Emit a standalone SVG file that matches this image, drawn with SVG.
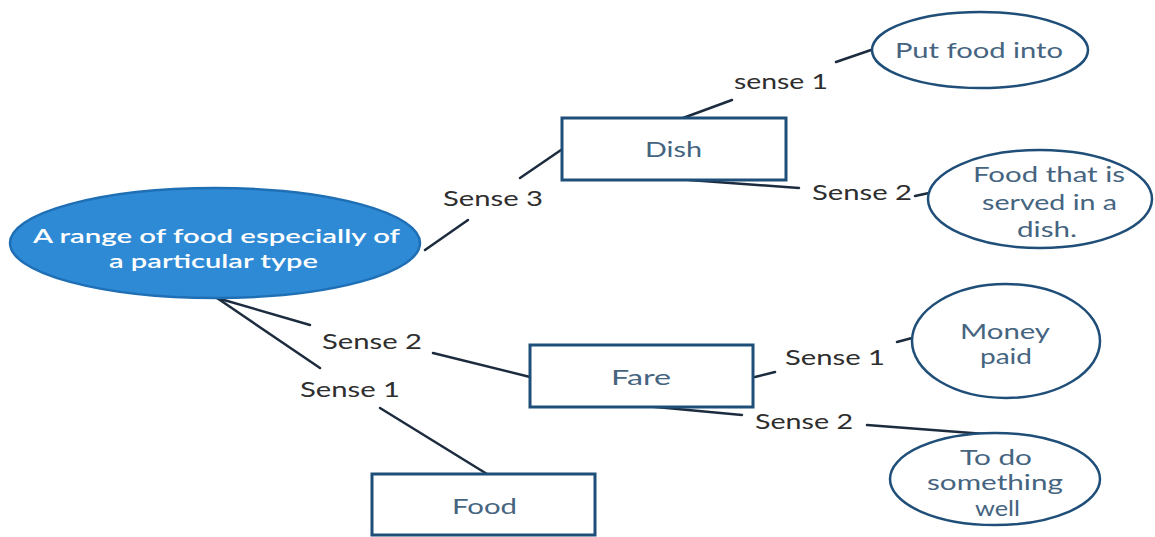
<svg xmlns="http://www.w3.org/2000/svg" width="1155" height="537" viewBox="0 0 1155 537">
<style>
.conn line{stroke:#1c2c3e;stroke-width:2.5;stroke-linecap:round}
.box{fill:#ffffff;stroke:#1f4e79;stroke-width:3}
.oval{fill:#ffffff;stroke:#1f4e79;stroke-width:2.5}
.main{fill:#2f8ad6;stroke:#1f6fb5;stroke-width:2.5}
.lbl{font-family:Lato,"Open Sans",sans-serif;font-size:21px;fill:#2e2e2e}
.nt{font-family:Lato,"Open Sans",sans-serif;font-size:21px;fill:#456480}
.mt{font-family:Lato,"Open Sans",sans-serif;font-size:20px;fill:#ffffff;font-weight:600}
</style>
<rect width="1155" height="537" fill="#ffffff"/>
<g id="connectors" class="conn">
<line x1="425" y1="250" x2="468" y2="220"/>
<line x1="520" y1="178" x2="561" y2="150"/>
<line x1="683" y1="118" x2="732" y2="100"/>
<line x1="836" y1="62" x2="871" y2="50"/>
<line x1="689" y1="180" x2="799" y2="188"/>
<line x1="915" y1="196" x2="929" y2="193"/>
<line x1="217" y1="298" x2="310" y2="325"/>
<line x1="217" y1="298" x2="320" y2="368"/>
<line x1="433" y1="353" x2="530" y2="377"/>
<line x1="380" y1="408" x2="487" y2="474"/>
<line x1="755" y1="377" x2="775" y2="372"/>
<line x1="897" y1="342" x2="912" y2="338"/>
<line x1="645" y1="406" x2="742" y2="415"/>
<line x1="867" y1="425" x2="985" y2="434"/>
</g>
<g id="labels">
<text class="lbl" x="443" y="206" textLength="100" lengthAdjust="spacingAndGlyphs">Sense 3</text>
<text class="lbl" x="734" y="89" textLength="94" lengthAdjust="spacingAndGlyphs">sense 1</text>
<text class="lbl" x="812" y="200" textLength="100" lengthAdjust="spacingAndGlyphs">Sense 2</text>
<text class="lbl" x="322" y="349" textLength="100" lengthAdjust="spacingAndGlyphs">Sense 2</text>
<text class="lbl" x="300" y="397" textLength="100" lengthAdjust="spacingAndGlyphs">Sense 1</text>
<text class="lbl" x="785" y="365" textLength="100" lengthAdjust="spacingAndGlyphs">Sense 1</text>
<text class="lbl" x="755" y="429" textLength="98" lengthAdjust="spacingAndGlyphs">Sense 2</text>
</g>
<g id="main">
<ellipse class="main" cx="215" cy="243" rx="205" ry="55"/>
<text class="mt" x="33" y="243" textLength="367" lengthAdjust="spacingAndGlyphs">A range of food especially of</text>
<text class="mt" x="109" y="268" textLength="209" lengthAdjust="spacingAndGlyphs">a particular type</text>
</g>
<g id="dish">
<rect class="box" x="562" y="118" width="224" height="62"/>
<text class="nt" x="645" y="157" textLength="57" lengthAdjust="spacingAndGlyphs">Dish</text>
</g>
<g id="fare">
<rect class="box" x="530" y="345" width="223" height="62"/>
<text class="nt" x="611" y="385" textLength="60" lengthAdjust="spacingAndGlyphs">Fare</text>
</g>
<g id="food">
<rect class="box" x="372" y="474" width="223" height="61"/>
<text class="nt" x="452" y="514" textLength="65" lengthAdjust="spacingAndGlyphs">Food</text>
</g>
<g id="put-food-into">
<ellipse class="oval" cx="980" cy="50" rx="108" ry="38"/>
<text class="nt" x="895" y="58" textLength="168" lengthAdjust="spacingAndGlyphs">Put food into</text>
</g>
<g id="food-served">
<ellipse class="oval" cx="1040" cy="199" rx="112" ry="49"/>
<text class="nt" x="973" y="182" textLength="152" lengthAdjust="spacingAndGlyphs">Food that is</text>
<text class="nt" x="982" y="210" textLength="135" lengthAdjust="spacingAndGlyphs">served in a</text>
<text class="nt" x="1017" y="237" textLength="60" lengthAdjust="spacingAndGlyphs">dish.</text>
</g>
<g id="money-paid">
<ellipse class="oval" cx="1006" cy="341" rx="94" ry="57"/>
<text class="nt" x="960" y="339" textLength="90" lengthAdjust="spacingAndGlyphs">Money</text>
<text class="nt" x="980" y="364" textLength="52" lengthAdjust="spacingAndGlyphs">paid</text>
</g>
<g id="to-do-well">
<ellipse class="oval" cx="995" cy="479" rx="105" ry="46"/>
<text class="nt" x="960" y="465" textLength="72" lengthAdjust="spacingAndGlyphs">To do</text>
<text class="nt" x="927" y="490" textLength="136" lengthAdjust="spacingAndGlyphs">something</text>
<text class="nt" x="975" y="516" textLength="45" lengthAdjust="spacingAndGlyphs">well</text>
</g>
</svg>
